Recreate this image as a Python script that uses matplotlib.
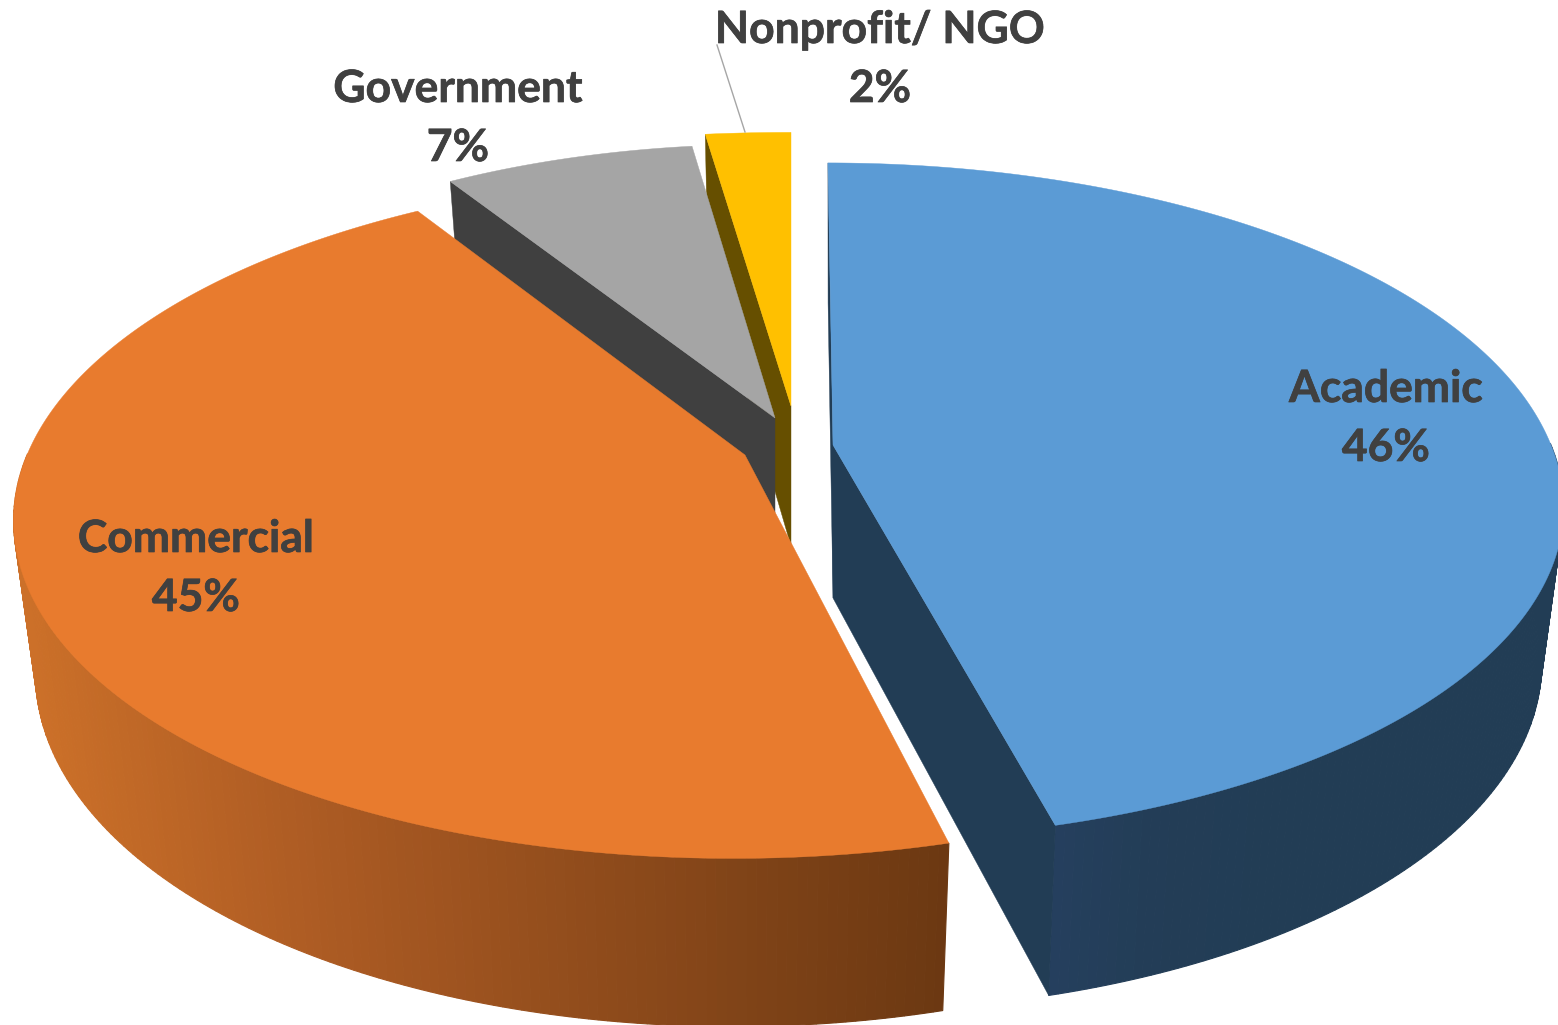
import numpy as np
import matplotlib
matplotlib.use("Agg")
import matplotlib.pyplot as plt
import matplotlib.patheffects as pe
from matplotlib.patches import Polygon

categories = ["Academic", "Commercial", "Government", "Nonprofit/ NGO"]
shares = [46, 45, 7, 2]
top_colors = ["#5B9BD5", "#E87B2E", "#A5A5A5", "#FFC000"]
side_colors = ["#223D55", "#7A3E14", "#404040", "#664F00"]

W, H = 1558, 1025
RX, RY, P = 718.0, 332.0, 0.177
DEPTH_SX, DEPTH_SY = 0.97, 1.045

# layout of each exploded slice:
# apex x, apex y, x scale, back y scale, front y scale, shear, depth
layout = {
    "Academic": (833, 445, 1.0, 1.0, 0.98, 0.018, 153),
    "Commercial": (745, 455, 1.0, 1.0, 1.0, -0.03, 150),
    "Government": (775, 418, 0.942, 0.97, 0.97, 0.04, 140),
    "Nonprofit/ NGO": (791, 406, 1.12, 0.97, 0.97, 0.0, 140),
}
# which radial faces of a slice can be seen (start edge, end edge)
radial_faces = {
    "Academic": (True, True),
    "Commercial": (False, False),
    "Government": (True, False),
    "Nonprofit/ NGO": (True, False),
}
# label centre positions (name line, value line)
label_xy = {
    "Academic": (1386, 389, 448),
    "Commercial": (196, 539, 598),
    "Government": (458, 89, 148),
    "Nonprofit/ NGO": (880, 30, 89),
}


def project(theta, cfg, bottom=False):
    ax_, ay_, sx, sy_back, sy_front, shear, depth = cfg
    u, v = np.sin(theta), np.cos(theta)
    s = 1.0 / (1.0 + P * v)
    dx = RX * u * s * sx
    dy = -RY * v * s * (sy_back if v > 0 else sy_front)
    dx = dx + shear * dy
    if bottom:
        return ax_ + DEPTH_SX * dx, ay_ + depth + DEPTH_SY * dy
    return ax_ + dx, ay_ + dy


def apex(cfg, bottom=False):
    return (cfg[0], cfg[1] + (cfg[6] if bottom else 0))


def wall_color(name, x):
    if name == "Commercial":
        return tuple(np.interp(x, [20, 300, 950], c) for c in
                     ([0.80, 0.68, 0.42], [0.44, 0.36, 0.22], [0.16, 0.14, 0.07]))
    if name == "Academic":
        return tuple(np.interp(x, [1050, 1150, 1300], c) for c in
                     ([0.145, 0.137, 0.133], [0.25, 0.24, 0.24], [0.37, 0.34, 0.333]))
    return matplotlib.colors.to_rgb(side_colors[categories.index(name)])


fig = plt.figure(figsize=(W / 100, H / 100), dpi=100)
ax = fig.add_axes([0, 0, 1, 1])
ax.set_xlim(0, W)
ax.set_ylim(H, 0)
ax.axis("off")

total = sum(shares)
edges = np.cumsum([0] + shares) / total * 2 * np.pi
slices = list(zip(categories, edges[:-1], edges[1:], top_colors, side_colors))

# back-to-front: nonprofit, government, commercial, academic
for name, t0, t1, top, side in reversed(slices):
    cfg = layout[name]
    thetas = np.linspace(t0, t1, 241)
    # outer wall where it faces the viewer, as thin quads so the shading can follow x
    for a, b in zip(thetas[:-1], thetas[1:]):
        if np.cos((a + b) / 2) > 0.0:
            continue
        p = [project(a, cfg), project(b, cfg), project(b, cfg, True), project(a, cfg, True)]
        col = wall_color(name, (p[0][0] + p[1][0]) / 2)
        ax.add_patch(Polygon(p, closed=True, fc=col, ec=col, lw=0.8))
    # visible radial faces
    for t, show in zip((t0, t1), radial_faces[name]):
        if show:
            p = [apex(cfg), project(t, cfg), project(t, cfg, True), apex(cfg, True)]
            ax.add_patch(Polygon(p, closed=True, fc=side, ec=side, lw=0.3))
    # top face
    pts = [apex(cfg)] + [project(t, cfg) for t in thetas]
    ax.add_patch(Polygon(pts, closed=True, fc=top, ec=top, lw=0.3))

ax.plot([717, 745], [45, 132], color="#A6A6A6", lw=1.0, zorder=3)

for name, value in zip(categories, shares):
    x, y1, y2 = label_xy[name]
    for y, s in ((y1, name), (y2, f"{value}%")):
        ax.text(x, y, s, ha="center", va="center", color="#404040", fontsize=32,
                fontweight="bold", family=["Lato", "DejaVu Sans"], zorder=4,
                path_effects=[pe.withStroke(linewidth=0.5, foreground="#404040")])

fig.savefig("out.png", dpi=100, facecolor="white")
